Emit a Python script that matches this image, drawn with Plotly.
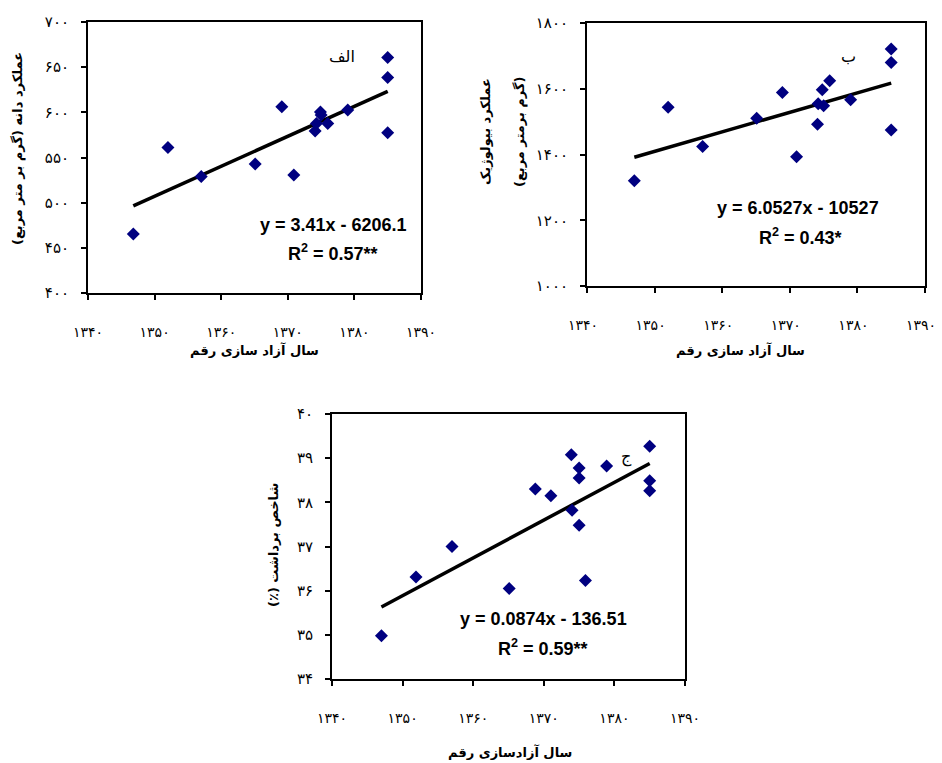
import numpy as np
import plotly.graph_objects as go

# ---------------- data ----------------
x_ticks = [1340, 1350, 1360, 1370, 1380, 1390]
x_ticktext = ["۱۳۴۰", "۱۳۵۰", "۱۳۶۰", "۱۳۷۰", "۱۳۸۰", "۱۳۹۰"]

# Panel A: grain yield (g/m2)
a_year = [1346.8, 1352.0, 1357.0, 1365.1, 1369.1, 1370.9, 1374.1, 1374.3,
          1374.9, 1375.0, 1376.0, 1379.0, 1385.0, 1385.0, 1385.0]
a_yield = [465.2, 561.2, 528.9, 542.8, 606.1, 530.7, 579.3, 587.7,
           600.3, 597.0, 587.7, 602.5, 660.6, 638.5, 577.4]
a_yticks = [400, 450, 500, 550, 600, 650, 700]
a_yticktext = ["۴۰۰", "۴۵۰", "۵۰۰", "۵۵۰", "۶۰۰", "۶۵۰", "۷۰۰"]

# Panel B: biological yield (g/m2)
b_year = [1347.0, 1352.0, 1357.1, 1365.1, 1368.9, 1371.0, 1374.1, 1374.2,
          1374.8, 1375.0, 1375.9, 1379.0, 1385.0, 1385.0, 1385.0]
b_yield = [1320.3, 1543.9, 1424.0, 1510.4, 1588.6, 1393.5, 1492.0, 1554.0,
           1596.7, 1548.0, 1624.2, 1566.3, 1720.7, 1680.0, 1474.8]
b_yticks = [1000, 1200, 1400, 1600, 1800]
b_yticktext = ["۱۰۰۰", "۱۲۰۰", "۱۴۰۰", "۱۶۰۰", "۱۸۰۰"]

# Panel C: harvest index (%)
c_year = [1347.0, 1351.9, 1357.0, 1365.1, 1368.8, 1371.0, 1373.9, 1374.0,
          1375.0, 1375.0, 1375.0, 1375.9, 1378.9, 1385.0, 1385.0, 1385.0]
c_hi = [34.98, 36.31, 37.00, 36.05, 38.30, 38.15, 39.08, 37.82,
        38.78, 38.55, 37.48, 36.23, 38.82, 39.27, 38.49, 38.26]
c_yticks = [34, 35, 36, 37, 38, 39, 40]
c_yticktext = ["۳۴", "۳۵", "۳۶", "۳۷", "۳۸", "۳۹", "۴۰"]

OFF = 8  # page body margin
W, H = 942 - OFF, 763 - OFF
MARKER = "#000080"
FA = "DejaVu Sans"
EN = "Liberation Sans, Arial"
RLM = "\u200f"

fig = go.Figure()

panels = [
    ("x", "y", a_year, a_yield),
    ("x2", "y2", b_year, b_yield),
    ("x3", "y3", c_year, c_hi),
]
for xa, ya, xs, ys in panels:
    xs_arr = np.array(xs)
    ys_arr = np.array(ys)
    k, b = np.polyfit(xs_arr, ys_arr, 1)
    lx = np.array([xs_arr.min(), xs_arr.max()])
    fig.add_trace(go.Scatter(x=lx, y=k * lx + b, mode="lines", xaxis=xa, yaxis=ya,
                             line=dict(color="black", width=3.5), showlegend=False,
                             hoverinfo="skip"))
    fig.add_trace(go.Scatter(x=xs, y=ys, mode="markers", xaxis=xa, yaxis=ya,
                             marker=dict(symbol="diamond", size=10, color=MARKER),
                             showlegend=False))

def px(xp):
    return (xp - OFF) / W

def py(yp):
    return 1 - (yp - OFF) / H

common_x = dict(range=[1340, 1390], tickvals=x_ticks, ticktext=x_ticktext,
                showline=True, linecolor="black", linewidth=2, mirror=True,
                ticks="outside", ticklen=5, tickcolor="black", tickwidth=1.5,
                showgrid=False, zeroline=False, ticklabelstandoff=20,
                automargin=False, ticklabeloverflow="allow",
                tickfont=dict(family=FA, size=14, color="black"))
common_y = dict(showline=True, linecolor="black", linewidth=2, mirror=True,
                ticks="outside", ticklen=5, tickcolor="black", tickwidth=1.5,
                showgrid=False, zeroline=False, ticklabelstandoff=9,
                automargin=False, ticklabeloverflow="allow",
                tickfont=dict(family=FA, size=15, color="black"))

fig.update_layout(
    width=W, height=H, margin=dict(l=0, r=0, t=0, b=0, autoexpand=False),
    paper_bgcolor="white", plot_bgcolor="white",
    xaxis=dict(domain=[px(88), px(421)], anchor="y", **common_x),
    yaxis=dict(domain=[py(293), py(22)], anchor="x", range=[400, 700],
               tickvals=a_yticks, ticktext=a_yticktext, **common_y),
    xaxis2=dict(domain=[px(587), px(925)], anchor="y2", ticklabelshift=-4, **common_x),
    yaxis2=dict(domain=[py(286), py(23)], anchor="x2", range=[1000, 1800],
                tickvals=b_yticks, ticktext=b_yticktext, **common_y),
    xaxis3=dict(domain=[px(332), px(685)], anchor="y3", **common_x),
    yaxis3=dict(domain=[py(679), py(414)], anchor="x3", range=[34, 40],
                tickvals=c_yticks, ticktext=c_yticktext, **common_y),
)

def ann(text, x, y, size, family, bold=False, angle=0, rtl=False):
    if rtl:
        text = RLM + text + RLM
    t = "<b>" + text + "</b>" if bold else text
    fig.add_annotation(text=t, x=px(x), y=py(y), xref="paper", yref="paper",
                       showarrow=False, textangle=angle, xanchor="center",
                       yanchor="middle",
                       font=dict(family=family, size=size, color="black"))

# axis titles
ann("سال آزاد سازی رقم", 254, 350, 13, FA, bold=True, rtl=True)
ann("سال آزاد سازی رقم", 740, 350, 13, FA, bold=True, rtl=True)
ann("سال آزادسازی رقم", 510, 752, 13, FA, bold=True, rtl=True)
ann("عملکرد دانه (گرم بر متر مربع)", 18, 149, 13, FA, bold=True, angle=-90, rtl=True)
ann("عملکرد بیولوژیک", 485, 132, 13, FA, bold=True, angle=-90, rtl=True)
ann("(گرم برمتر مربع)", 520, 132, 13, FA, bold=True, angle=-90, rtl=True)
ann("شاخص برداشت (٪)", 273, 545, 13, FA, bold=True, angle=-90, rtl=True)

# panel letters
ann("الف", 342, 57, 16, FA, rtl=True)
ann("ب", 848, 57, 16, FA, rtl=True)
ann("ج", 626, 457, 16, FA, rtl=True)

# equations
ann("y = 3.41x - 6206.1", 333, 225, 18, EN, bold=True)
ann("R<sup>2</sup> = 0.57**", 333, 252, 18, EN, bold=True)
ann("y = 6.0527x - 10527", 798, 208, 18, EN, bold=True)
ann("R<sup>2</sup> = 0.43*", 800, 236, 18, EN, bold=True)
ann("y = 0.0874x - 136.51", 543, 619, 18, EN, bold=True)
ann("R<sup>2</sup> = 0.59**", 543, 647, 18, EN, bold=True)

fig.write_html("out.html")
